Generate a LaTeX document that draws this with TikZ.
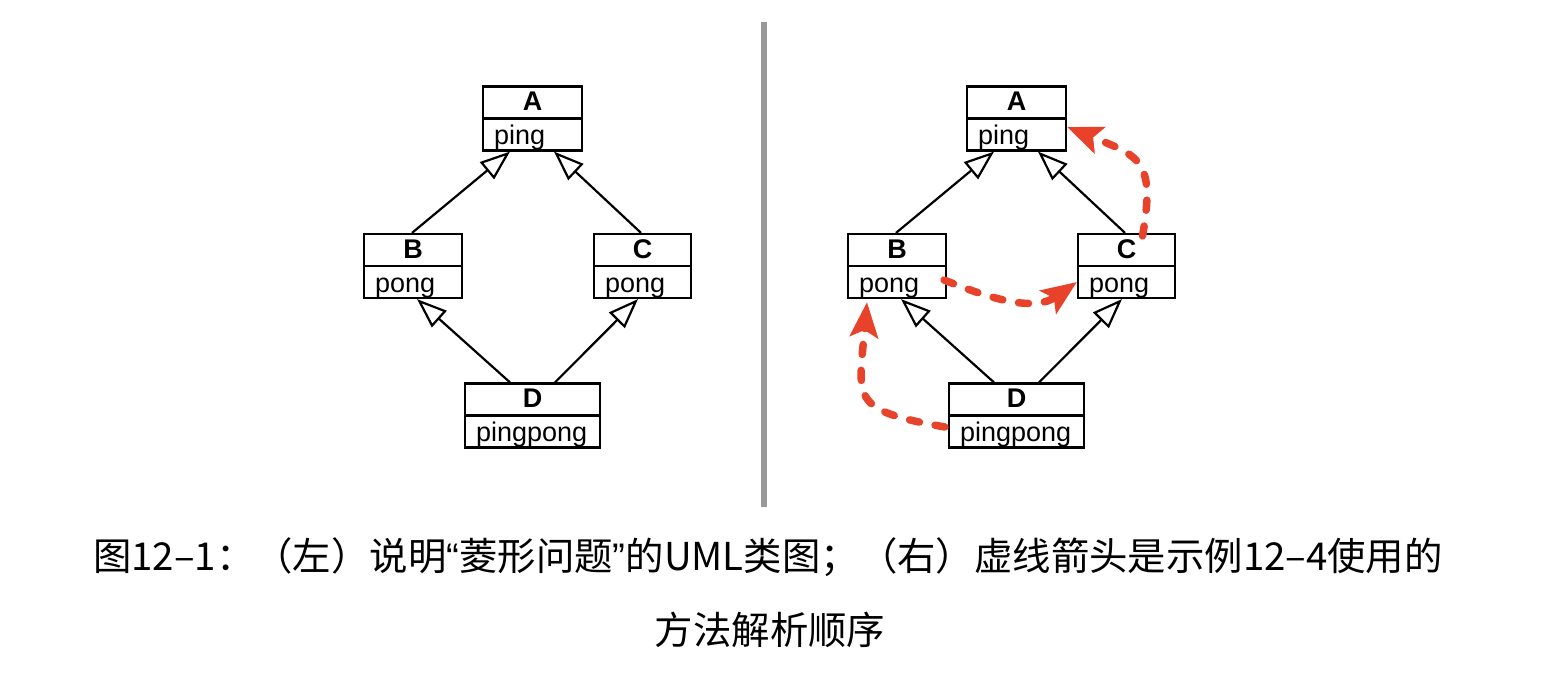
\documentclass[tikz,border=0pt]{standalone}
\usepackage{fontspec}
\newfontfamily\cjk{Noto Sans CJK SC}
\newfontfamily\umlfont{Liberation Sans}
\usetikzlibrary{arrows.meta}
\definecolor{mrored}{RGB}{232,67,42}
\definecolor{sepgray}{RGB}{153,153,153}
\newcommand\umlclass[6]{%
  \node[classbox=#4] (#1) at (#2,#3) {};
  \draw[line width=2.2pt] (#1.west) -- (#1.east);
  \node[titletext] (#1t) at ([yshift=-16pt]#1.north) {#5};
  \node[attrtext] (#1a) at ([xshift=12pt,yshift=7pt]#1.south west) {#6};
}
\begin{document}
\begin{tikzpicture}[x=1pt,y=-1pt,
  classbox/.style={draw=black, line width=2.2pt, inner sep=0pt, minimum width=#1, minimum height=64pt},
  titletext/.style={inner sep=0pt, font=\umlfont\bfseries\fontsize{27}{27}\selectfont},
  attrtext/.style={inner sep=0pt, anchor=base west, font=\umlfont\fontsize{27}{27}\selectfont},
  gen/.style={line width=2.2pt, -{Triangle[open, length=30pt, width=22pt, fill=white]}},
  mro/.style={draw=mrored, line width=7.5pt, line cap=round, dash pattern=on 10pt off 16pt,
    -{Stealth[length=35pt, width=28pt, inset=7pt, fill=mrored]}},
  captext/.style={inner sep=0pt, font=\cjk\fontsize{38.4}{38.4}\selectfont}
]
\useasboundingbox (0,0) rectangle (1544,692);
\fill[white] (0,0) rectangle (1544,692);

% separator
\coordinate (sepT) at (764,22);
\coordinate (sepB) at (764,507);
\draw[sepgray, line width=6pt] (sepT) -- (sepB);

% left diagram
\umlclass{A}{532.5}{118.5}{99}{A}{ping}
\umlclass{B}{413}{266}{98}{B}{pong}
\umlclass{C}{642.5}{266}{97}{C}{pong}
\umlclass{D}{532.5}{415.5}{135}{D}{pingpong}

\draw[gen] ([xshift=-1pt]B.north) -- ([xshift=-22.5pt]A.south);
\draw[gen] ([xshift=-1.5pt]C.north) -- ([xshift=21.5pt]A.south);
\draw[gen] ([xshift=-22.5pt]D.north) -- ([xshift=4pt]B.south);
\draw[gen] ([xshift=22.5pt]D.north) -- ([xshift=-4.5pt]C.south);

% right diagram
\umlclass{rA}{1016.5}{118.5}{99}{A}{ping}
\umlclass{rB}{897}{266}{98}{B}{pong}
\umlclass{rC}{1126.5}{266}{97}{C}{pong}
\umlclass{rD}{1016.5}{415.5}{135}{D}{pingpong}

\draw[gen] ([xshift=-1pt]rB.north) -- ([xshift=-22.5pt]rA.south);
\draw[gen] ([xshift=-1.5pt]rC.north) -- ([xshift=21.5pt]rA.south);
\draw[gen] ([xshift=-22.5pt]rD.north) -- ([xshift=4pt]rB.south);
\draw[gen] ([xshift=22.5pt]rD.north) -- ([xshift=-4.5pt]rC.south);

% method resolution order
\draw[mro] ([xshift=-3pt,yshift=-11.5pt]rD.west) to[out=170, in=-95, looseness=1.7] ([xshift=-30pt,yshift=-3pt]rB.south);
\draw[mro] ([xshift=-3pt,yshift=-14pt]rB.east) to[out=-22, in=-145] ([yshift=-16pt]rC.west);
\draw[mro] ([xshift=16pt,yshift=-3pt]rC.north) to[out=80, in=-22, looseness=1.5] ([yshift=-8.5pt]rA.east);

% caption
\node[captext] (cap1) at (768,557) {图12–1：（左）说明{\umlfont “}菱形问题{\umlfont ”}的UML类图；（右）虚线箭头是示例12–4使用的};
\node[captext] (cap2) at (770,630) {方法解析顺序};
\end{tikzpicture}
\end{document}
